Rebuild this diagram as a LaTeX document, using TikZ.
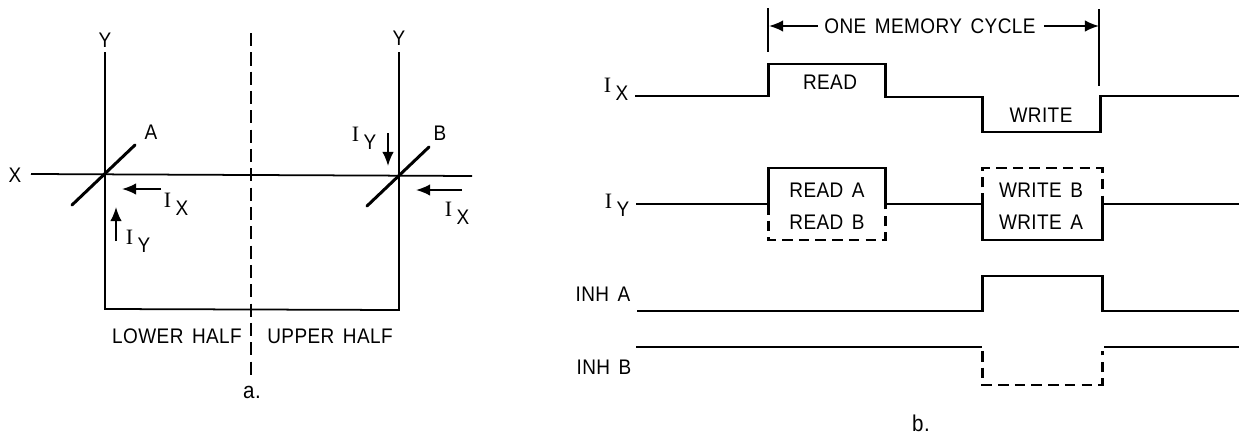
\documentclass[tikz,border=0pt]{standalone}
\usepackage{fontspec}
\setmainfont{Liberation Sans}[LetterSpace=2,WordSpace=1.5,FakeStretch=0.9]
\newfontfamily\barfont{Liberation Serif}
\usetikzlibrary{arrows.meta}
\newcommand{\curlabel}[1]{{\barfont\fontsize{12.5}{12}\selectfont I}\kern2.5pt\raisebox{-.75ex}{#1}}
\tikzset{
  wire/.style={line width=1pt},
  wave/.style={line width=1.7pt, line join=miter},
  wavedash/.style={wave, dash pattern=on 6pt off 3.5pt},
  core/.style={line width=1.7pt, line cap=round},
  cur/.style={line width=1pt, -{Latex[length=8pt,width=6.5pt]}},
  lab/.style={inner sep=0pt, font=\fontsize{12}{12}\selectfont}
}
\begin{document}
\begin{tikzpicture}[x=0.02cm, y=-0.02cm]
  \useasboundingbox (0,0) rectangle (1244,436);
  % left: the two core windings
  \coordinate (xl) at (31,174);
  \coordinate (xr) at (472,176);
  \coordinate (ya) at (105,52);
  \coordinate (yb) at (399,52);
  \coordinate (ca) at (105,309);
  \coordinate (cb) at (399,310);
  \coordinate (ht) at (251,33);
  \coordinate (hb) at (251,380);
  \draw[wire] (ya) -- (ca) -- (cb) -- (yb);
  \draw[wire] (xl) -- (xr);
  \draw[wire, dash pattern=on 7.5pt off 3.5pt] (ht) -- (hb);
  \coordinate (a1) at (72,205);
  \coordinate (a2) at (135,145);
  \coordinate (b1) at (367,206);
  \coordinate (b2) at (429,147);
  \draw[core] (a1) -- (a2);
  \draw[core] (b1) -- (b2);
  \node[lab] (ylefta) at (105,40) {Y};
  \node[lab] (yrightb) at (399,38) {Y};
  \node[lab] (xname) at (15,175) {X};
  \node[lab] (aname) at (151,132) {A};
  \node[lab] (bname) at (440,133) {B};
  % currents
  \coordinate (ix1s) at (161,189);
  \coordinate (ix1e) at (122,189);
  \coordinate (iy1s) at (116,241);
  \coordinate (iy1e) at (116,207);
  \coordinate (iy2s) at (388,133);
  \coordinate (iy2e) at (388,166);
  \coordinate (ix2s) at (462,190);
  \coordinate (ix2e) at (416,190);
  \draw[cur] (ix1s) -- (ix1e);
  \draw[cur] (iy1s) -- (iy1e);
  \draw[cur] (iy2s) -- (iy2e);
  \draw[cur] (ix2s) -- (ix2e);
  \node[lab] (ix1) at (176,204) {\curlabel{X}};
  \node[lab] (iy1) at (138,241) {\curlabel{Y}};
  \node[lab] (iy2) at (364,138) {\curlabel{Y}};
  \node[lab] (ix2) at (457,213) {\curlabel{X}};
  \node[lab] (lower) at (177,336) {LOWER HALF};
  \node[lab] (upper) at (330,336) {UPPER HALF};
  \node[lab, font=\fontsize{13}{12}\selectfont] (capa) at (252,392) {a.};
  % right: timing
  \coordinate (tl1) at (768,8);
  \coordinate (tl2) at (768,52);
  \coordinate (tr1) at (1099,9);
  \coordinate (tr2) at (1099,86);
  \draw[line width=0.7pt] (tl1) -- (tl2);
  \draw[line width=0.7pt] (tr1) -- (tr2);
  \node[lab] (cycle) at (930,26) {ONE MEMORY CYCLE};
  \coordinate (cl) at (769,26);
  \coordinate (cr) at (1099,26);
  \draw[cur] (cycle.west) ++(-6,0) -- (cl);
  \draw[cur] (cycle.east) ++(8,0) -- (cr);
  \draw[wave] (635,96) -- (768,96) -- (768,64) -- (885,64) -- (885,97) -- (982,97)
     -- (982,132) -- (1100,132) -- (1100,96) -- (1239,96);
  \draw[wave] (636,204) -- (768,204) -- (768,168) -- (885,168) -- (885,204) -- (982,204)
     -- (982,240) -- (1102,240) -- (1102,204) -- (1239,204);
  \draw[wavedash] (768,204) -- (768,240) -- (885,240) -- (885,204);
  \draw[wavedash] (982,204) -- (982,168) -- (1102,168) -- (1102,204);
  \draw[wave] (637,311) -- (982,311) -- (982,276) -- (1102,276) -- (1102,311) -- (1239,311);
  \draw[wave] (636,347) -- (982,347);
  \draw[wave] (1104,347) -- (1239,347);
  \draw[wavedash] (982,351) -- (982,385) -- (1102,385) -- (1102,351);
  \node[lab] (rix) at (616,89) {\curlabel{X}};
  \node[lab] (riy) at (617,205) {\curlabel{Y}};
  \node[lab] (inha) at (603,294) {INH A};
  \node[lab] (inhb) at (604,367) {INH B};
  \node[lab] (read) at (830,82) {READ};
  \node[lab] (write) at (1041,115) {WRITE};
  \node[lab] (reada) at (827,190) {READ A};
  \node[lab] (readb) at (827,222) {READ B};
  \node[lab] (writeb) at (1041,190) {WRITE B};
  \node[lab] (writea) at (1041,222) {WRITE A};
  \node[lab, font=\fontsize{13}{12}\selectfont] (capb) at (921,423) {b.};
\end{tikzpicture}
\end{document}
